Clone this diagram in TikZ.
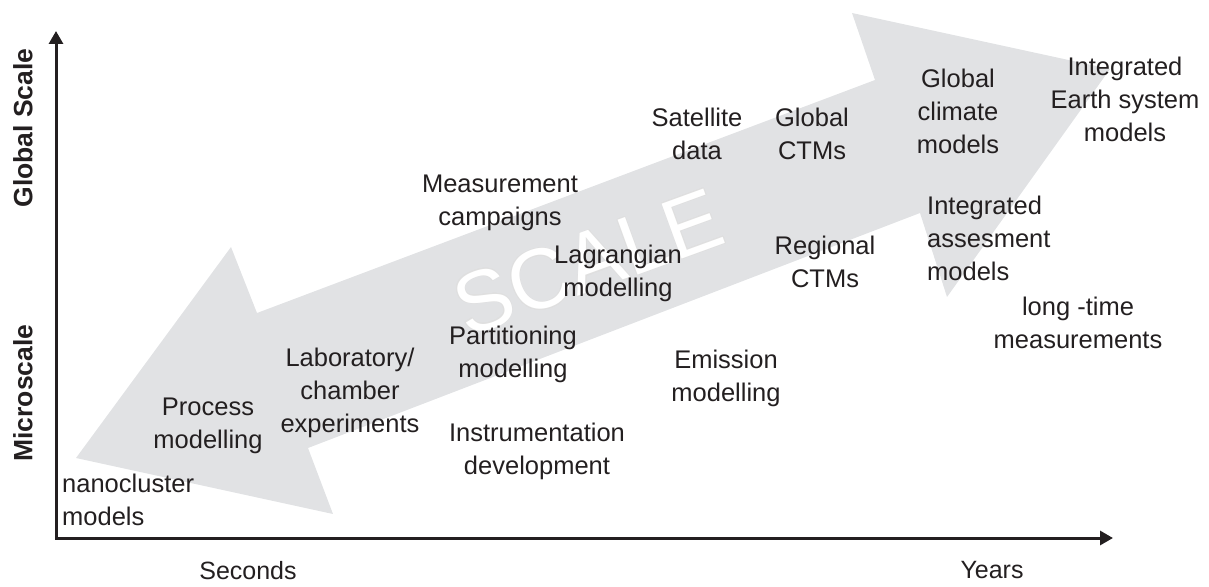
\documentclass[tikz,border=0pt]{standalone}
\usepackage{fontspec}
\setmainfont{Liberation Sans}
\usetikzlibrary{arrows.meta}
\definecolor{arrowgrey}{RGB}{225,226,228}
\definecolor{ink}{RGB}{35,31,32}

\begin{document}
\begin{tikzpicture}[x=1pt, y=-1pt,
    lbl/.style={font=\fontsize{25.5}{33}\selectfont, text=ink, align=center, inner sep=0pt},
    axislbl/.style={font=\fontsize{26.5}{33}\selectfont\bfseries, text=ink, inner sep=0pt, rotate=90},
    axis/.style={line width=3pt, draw=ink, line join=miter,
        {Triangle[length=13pt,width=14pt]}-{Triangle[length=13pt,width=14pt]}}]
    \useasboundingbox (0,0) rectangle (1209,586);
    % the big grey double arrow
    \fill[arrowgrey] (76,458)--(231,247)--(257,313)--(875,80)--(852,13)--(1110,69)
        --(947,297)--(920,213)--(308,448)--(333,514)--cycle;
    % the word along it, white with a thin grey rim
    \def\sc{\fontsize{85}{85}\selectfont}
    \foreach \a in {0,45,...,315}{
        \node[font=\sc, text=gray!25, rotate=20, inner sep=0pt,
            shift={(\a:0.6pt)}] at (588,262) {SCALE};
    }
    \node[font=\sc, text=white, rotate=20, inner sep=0pt] (scale) at (588,262) {SCALE};
    % axes
    \coordinate (origin) at (56,538);
    \coordinate (ytop) at (56,31);
    \coordinate (xend) at (1113,538);
    \draw[axis] (ytop) -- (origin) -- (xend);
    \node[axislbl] (glob) at (23,128) {Global Scale};
    \node[axislbl] (micro) at (23,393) {Microscale};
    \node[lbl, font=\fontsize{25}{33}\selectfont] (secs) at (248,571) {Seconds};
    \node[lbl, font=\fontsize{25}{33}\selectfont] (yrs) at (992,570) {Years};
    % upper row
    \node[lbl] (sat) at (697,134) {Satellite\\data};
    \node[lbl] (gctm) at (812,134) {Global\\CTMs};
    \node[lbl] (gcm) at (958,111) {Global\\climate\\models};
    \node[lbl] (iesm) at (1125,99) {Integrated\\Earth system\\models};
    % middle
    \node[lbl] (meas) at (500,203) {Measurement\\campaigns};
    \node[lbl] (lagr) at (618,273) {Lagrangian\\modelling};
    \node[lbl] (rctm) at (825,262) {Regional\\CTMs};
    \node[lbl, align=left, anchor=west] (iam) at (927,238) {Integrated\\assesment\\models};
    \node[lbl] (ltm) at (1078,323) {long -time\\measurements};
    \node[lbl] (part) at (513,354) {Partitioning\\modelling};
    \node[lbl] (emis) at (726,378) {Emission\\modelling};
    % lower row
    \node[lbl] (lab) at (350,393) {Laboratory/\\chamber\\experiments};
    \node[lbl] (proc) at (208,426) {Process\\modelling};
    \node[lbl] (instr) at (537,451) {Instrumentation\\development};
    \node[lbl, align=left, anchor=west] (nano) at (62,500) {nanocluster\\models};
\end{tikzpicture}
\end{document}
